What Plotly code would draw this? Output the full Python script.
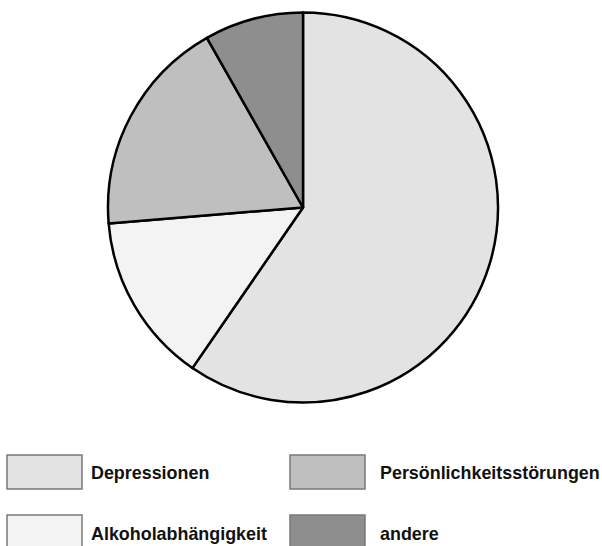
import plotly.graph_objects as go

# Diagnoses share (percent)
labels = ["Depressionen", "Alkoholabhängigkeit", "Persönlichkeitsstörungen", "andere"]
values = [59.6, 14.1, 18.1, 8.2]
colors = ["#e3e3e3", "#f3f3f3", "#bfbfbf", "#8e8e8e"]

W, H = 602, 546


def px(x):
    return x / W


def py(y):
    return 1 - y / H


fig = go.Figure()
fig.add_trace(go.Pie(
    labels=labels,
    values=values,
    sort=False,
    direction="clockwise",
    rotation=0,
    textinfo="none",
    hoverinfo="label+percent",
    marker=dict(colors=colors, line=dict(color="#000000", width=2.5)),
    domain=dict(x=[px(303 - 195), px(303 + 195)], y=[py(403), py(12)]),
    showlegend=False,
))

# Hand-drawn legend: two columns of large swatches
legend_pos = [
    (7, 455, 82, 489, 89, 473),      # Depressionen
    (7, 515, 82, 549, 89, 534),      # Alkoholabhängigkeit
    (290, 455, 365, 489, 378, 473),  # Persönlichkeitsstörungen
    (290, 515, 365, 549, 378, 534),  # andere
]
shapes = []
annotations = []
for lab, col, (x0, y0, x1, y1, tx, ty) in zip(labels, colors, legend_pos):
    shapes.append(dict(
        type="rect", xref="paper", yref="paper",
        x0=px(x0), x1=px(x1), y0=py(y1), y1=py(y0),
        fillcolor=col, line=dict(color="#7a7a7a", width=1.5),
    ))
    annotations.append(dict(
        text=lab, xref="paper", yref="paper",
        x=px(tx), y=py(ty), xanchor="left", yanchor="middle",
        showarrow=False,
        font=dict(family="Liberation Sans, Arial, sans-serif", size=17.9,
                  color="#111111", weight="bold"),
    ))

fig.update_layout(
    width=W, height=H,
    margin=dict(l=0, r=0, t=0, b=0),
    paper_bgcolor="white",
    plot_bgcolor="white",
    shapes=shapes,
    annotations=annotations,
)

fig.write_html("out.html")
